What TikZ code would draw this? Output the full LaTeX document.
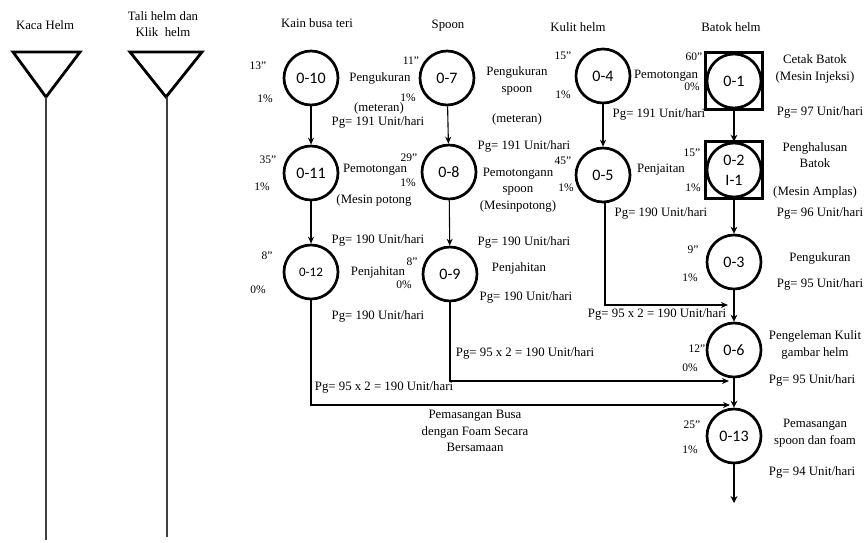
\documentclass[tikz,border=0pt]{standalone}
\usepackage{fontspec}
\setmainfont{Liberation Serif}
\newfontfamily\carlito{Carlito}
\usetikzlibrary{arrows.meta}
\tikzset{
  proc/.style={circle, draw, line width=2.7pt, minimum size=54pt, inner sep=0pt,
    font=\carlito\fontsize{16}{16}\selectfont},
  boxline/.style={line width=2.7pt},
  lab/.style={inner sep=0pt, align=center, font=\fontsize{12.8}{16.5}\selectfont},
  sm/.style={inner sep=0pt, font=\fontsize{11.5}{12}\selectfont},
  arr/.style={line width=1.1pt, -{Stealth[length=7pt,width=6pt]}},
  tarr/.style={line width=2.2pt, -{Stealth[length=7pt,width=7pt]}},
  longl/.style={line width=1.1pt, -{Stealth[length=7pt,width=6pt]}},
  tri/.style={line width=2.8pt, line join=miter},
  vline/.style={line width=1.3pt, black!75}
}
\begin{document}
\begin{tikzpicture}[x=1pt,y=-1pt]
\useasboundingbox (0,0) rectangle (864,542);
% headers
\node[lab] (hk) at (45,25) {Kaca Helm};
\node[lab] (ht) at (163,24) {Tali helm dan\\Klik\ \ helm};
\node[lab] (hkain) at (317,23) {Kain busa teri};
\node[lab] (hspoon) at (448,26) {Spoon};
\node[lab] (hkulit) at (578,27) {Kulit helm};
\node[lab] (hbatok) at (731,27) {Batok helm};
% triangles
\draw[tri] (13,52) -- (80,52) -- (46,97) -- cycle;
\draw[tri] (130,52) -- (202,52) -- (166,97) -- cycle;
\coordinate (t1) at (46,97);
\coordinate (t1e) at (46,540);
\coordinate (t2) at (167,97);
\coordinate (t2e) at (167,537);
\draw[vline] (t1) -- (t1e);
\draw[vline] (t2) -- (t2e);
% column 1
\node[proc] (o10) at (311,78) {0-10};
\node[proc] (o11) at (311,173) {0-11};
\node[proc, font=\carlito\fontsize{13}{13}\selectfont] (o12) at (311,272) {0-12};
% column 2
\node[proc] (o7) at (447,78) {0-7};
\node[proc] (o8) at (449,172) {0-8};
\node[proc] (o9) at (450,274) {0-9};
% column 3
\node[proc] (o4) at (603,76) {0-4};
\node[proc] (o5) at (603,175) {0-5};
% column 4
\node[proc] (o1) at (734,81) {0-1};
\draw[boxline] (o1.center) +(-28.5,-28.5) rectangle +(28.5,28.5);
\node[proc, align=center, font=\carlito\fontsize{16}{20}\selectfont] (o2) at (734,170) {0-2\\I-1};
\draw[boxline] (o2.center) +(-28.5,-28.5) rectangle +(28.5,28.5);
\node[proc] (o3) at (734,262) {0-3};
\node[proc] (o6) at (734,350) {0-6};
\node[proc] (o13) at (734,436) {0-13};
\coordinate (oend) at (734,503);
% arrows
\draw[arr] (o10) -- (o11);
\draw[arr] (o11) -- (o12);
\draw[arr] (o7) -- (o8);
\draw[arr] (o8) -- (o9);
\draw[arr] (o4) -- (o5);
\draw[tarr] (o1.south) -- (o2.north);
\draw[tarr] (o2.south) -- (o3);
\draw[tarr] (o3) -- (o6);
\draw[tarr] (o6) -- (o13);
\draw[tarr] (o13) -- (oend);
\coordinate (c12) at (730,405);
\coordinate (c9) at (729,381);
\coordinate (c5) at (728,305);
\draw[longl] (o12) |- (c12);
\draw[longl] (o9) |- (c9);
\draw[longl] ([xshift=2pt]o5.south) |- (c5);
% column 1 labels
\node[sm] (l10a) at (258,66) {13”};
\node[sm] (l10b) at (265,99) {1\%};
\node[lab] (d10a) at (380,78) {Pengukuran};
\node[lab] (d10b) at (379,108) {(meteran)};
\node[lab] (p10) at (378,122) {Pg= 191 Unit/hari};
\node[sm] (l11a) at (268,160) {35”};
\node[sm] (l11b) at (262,187) {1\%};
\node[lab] (d11a) at (375,170) {Pemotongan};
\node[lab] (d11b) at (374,200) {(Mesin potong};
\node[lab] (p11) at (378,240) {Pg= 190 Unit/hari};
\node[sm] (l12a) at (267,256) {8”};
\node[sm] (l12b) at (258,290) {0\%};
\node[lab] (d12) at (378,272) {Penjahitan};
\node[lab] (p12) at (378,316) {Pg= 190 Unit/hari};
\node[lab] (q12) at (384,387) {Pg= 95 x 2 = 190 Unit/hari};
\node[lab] (busa) at (475,431) {Pemasangan Busa\\dengan Foam Secara\\Bersamaan};
% column 2 labels
\node[sm] (l7a) at (411,61) {11”};
\node[sm] (l7b) at (408,98) {1\%};
\node[lab] (d7a) at (517,81) {Pengukuran\\spoon};
\node[lab] (d7b) at (517,119) {(meteran)};
\node[lab] (p7) at (524,146) {Pg= 191 Unit/hari};
\node[sm] (l8a) at (409,158) {29”};
\node[sm] (l8b) at (408,183) {1\%};
\node[lab] (d8) at (518,190) {Pemotongann\\spoon\\(Mesinpotong)};
\node[lab] (p8) at (524,242) {Pg= 190 Unit/hari};
\node[sm] (l9a) at (412,262) {8”};
\node[sm] (l9b) at (404,285) {0\%};
\node[lab] (d9) at (519,268) {Penjahitan};
\node[lab] (p9) at (526,297) {Pg= 190 Unit/hari};
\node[lab] (q9) at (525,353) {Pg= 95 x 2 = 190 Unit/hari};
% column 3 labels
\node[sm] (l4a) at (563,56) {15”};
\node[sm] (l4b) at (563,95) {1\%};
\node[lab] (d4) at (666,76) {Pemotongan};
\node[lab] (p4) at (659,114) {Pg= 191 Unit/hari};
\node[sm] (l5a) at (563,161) {45”};
\node[sm] (l5b) at (566,188) {1\%};
\node[lab] (d5) at (661,170) {Penjaitan};
\node[lab] (p5) at (661,213) {Pg= 190 Unit/hari};
\node[lab] (q5) at (657,314) {Pg= 95 x 2 = 190 Unit/hari};
% column 4 labels
\node[sm] (l1a) at (694,57) {60”};
\node[sm] (l1b) at (692,87) {0\%};
\node[lab] (d1) at (815,69) {Cetak Batok\\(Mesin Injeksi)};
\node[lab] (p1) at (820,112) {Pg= 97 Unit/hari};
\node[sm] (l2a) at (692,153) {15”};
\node[sm] (l2b) at (693,188) {1\%};
\node[lab] (d2a) at (815,155) {Penghalusan\\Batok};
\node[lab] (d2b) at (815,192) {(Mesin Amplas)};
\node[lab] (p2) at (820,213) {Pg= 96 Unit/hari};
\node[sm] (l3a) at (693,250) {9”};
\node[sm] (l3b) at (690,278) {1\%};
\node[lab] (d3) at (820,258) {Pengukuran};
\node[lab] (p3) at (820,284) {Pg= 95 Unit/hari};
\node[sm] (l6a) at (697,349) {12”};
\node[sm] (l6b) at (690,368) {0\%};
\node[lab] (d6) at (815,345) {Pengeleman Kulit\\gambar helm};
\node[lab] (p6) at (812,380) {Pg= 95 Unit/hari};
\node[sm] (l13a) at (692,425) {25”};
\node[sm] (l13b) at (690,450) {1\%};
\node[lab] (d13) at (815,433) {Pemasangan\\spoon dan foam};
\node[lab] (p13) at (812,472) {Pg= 94 Unit/hari};
\end{tikzpicture}
\end{document}
